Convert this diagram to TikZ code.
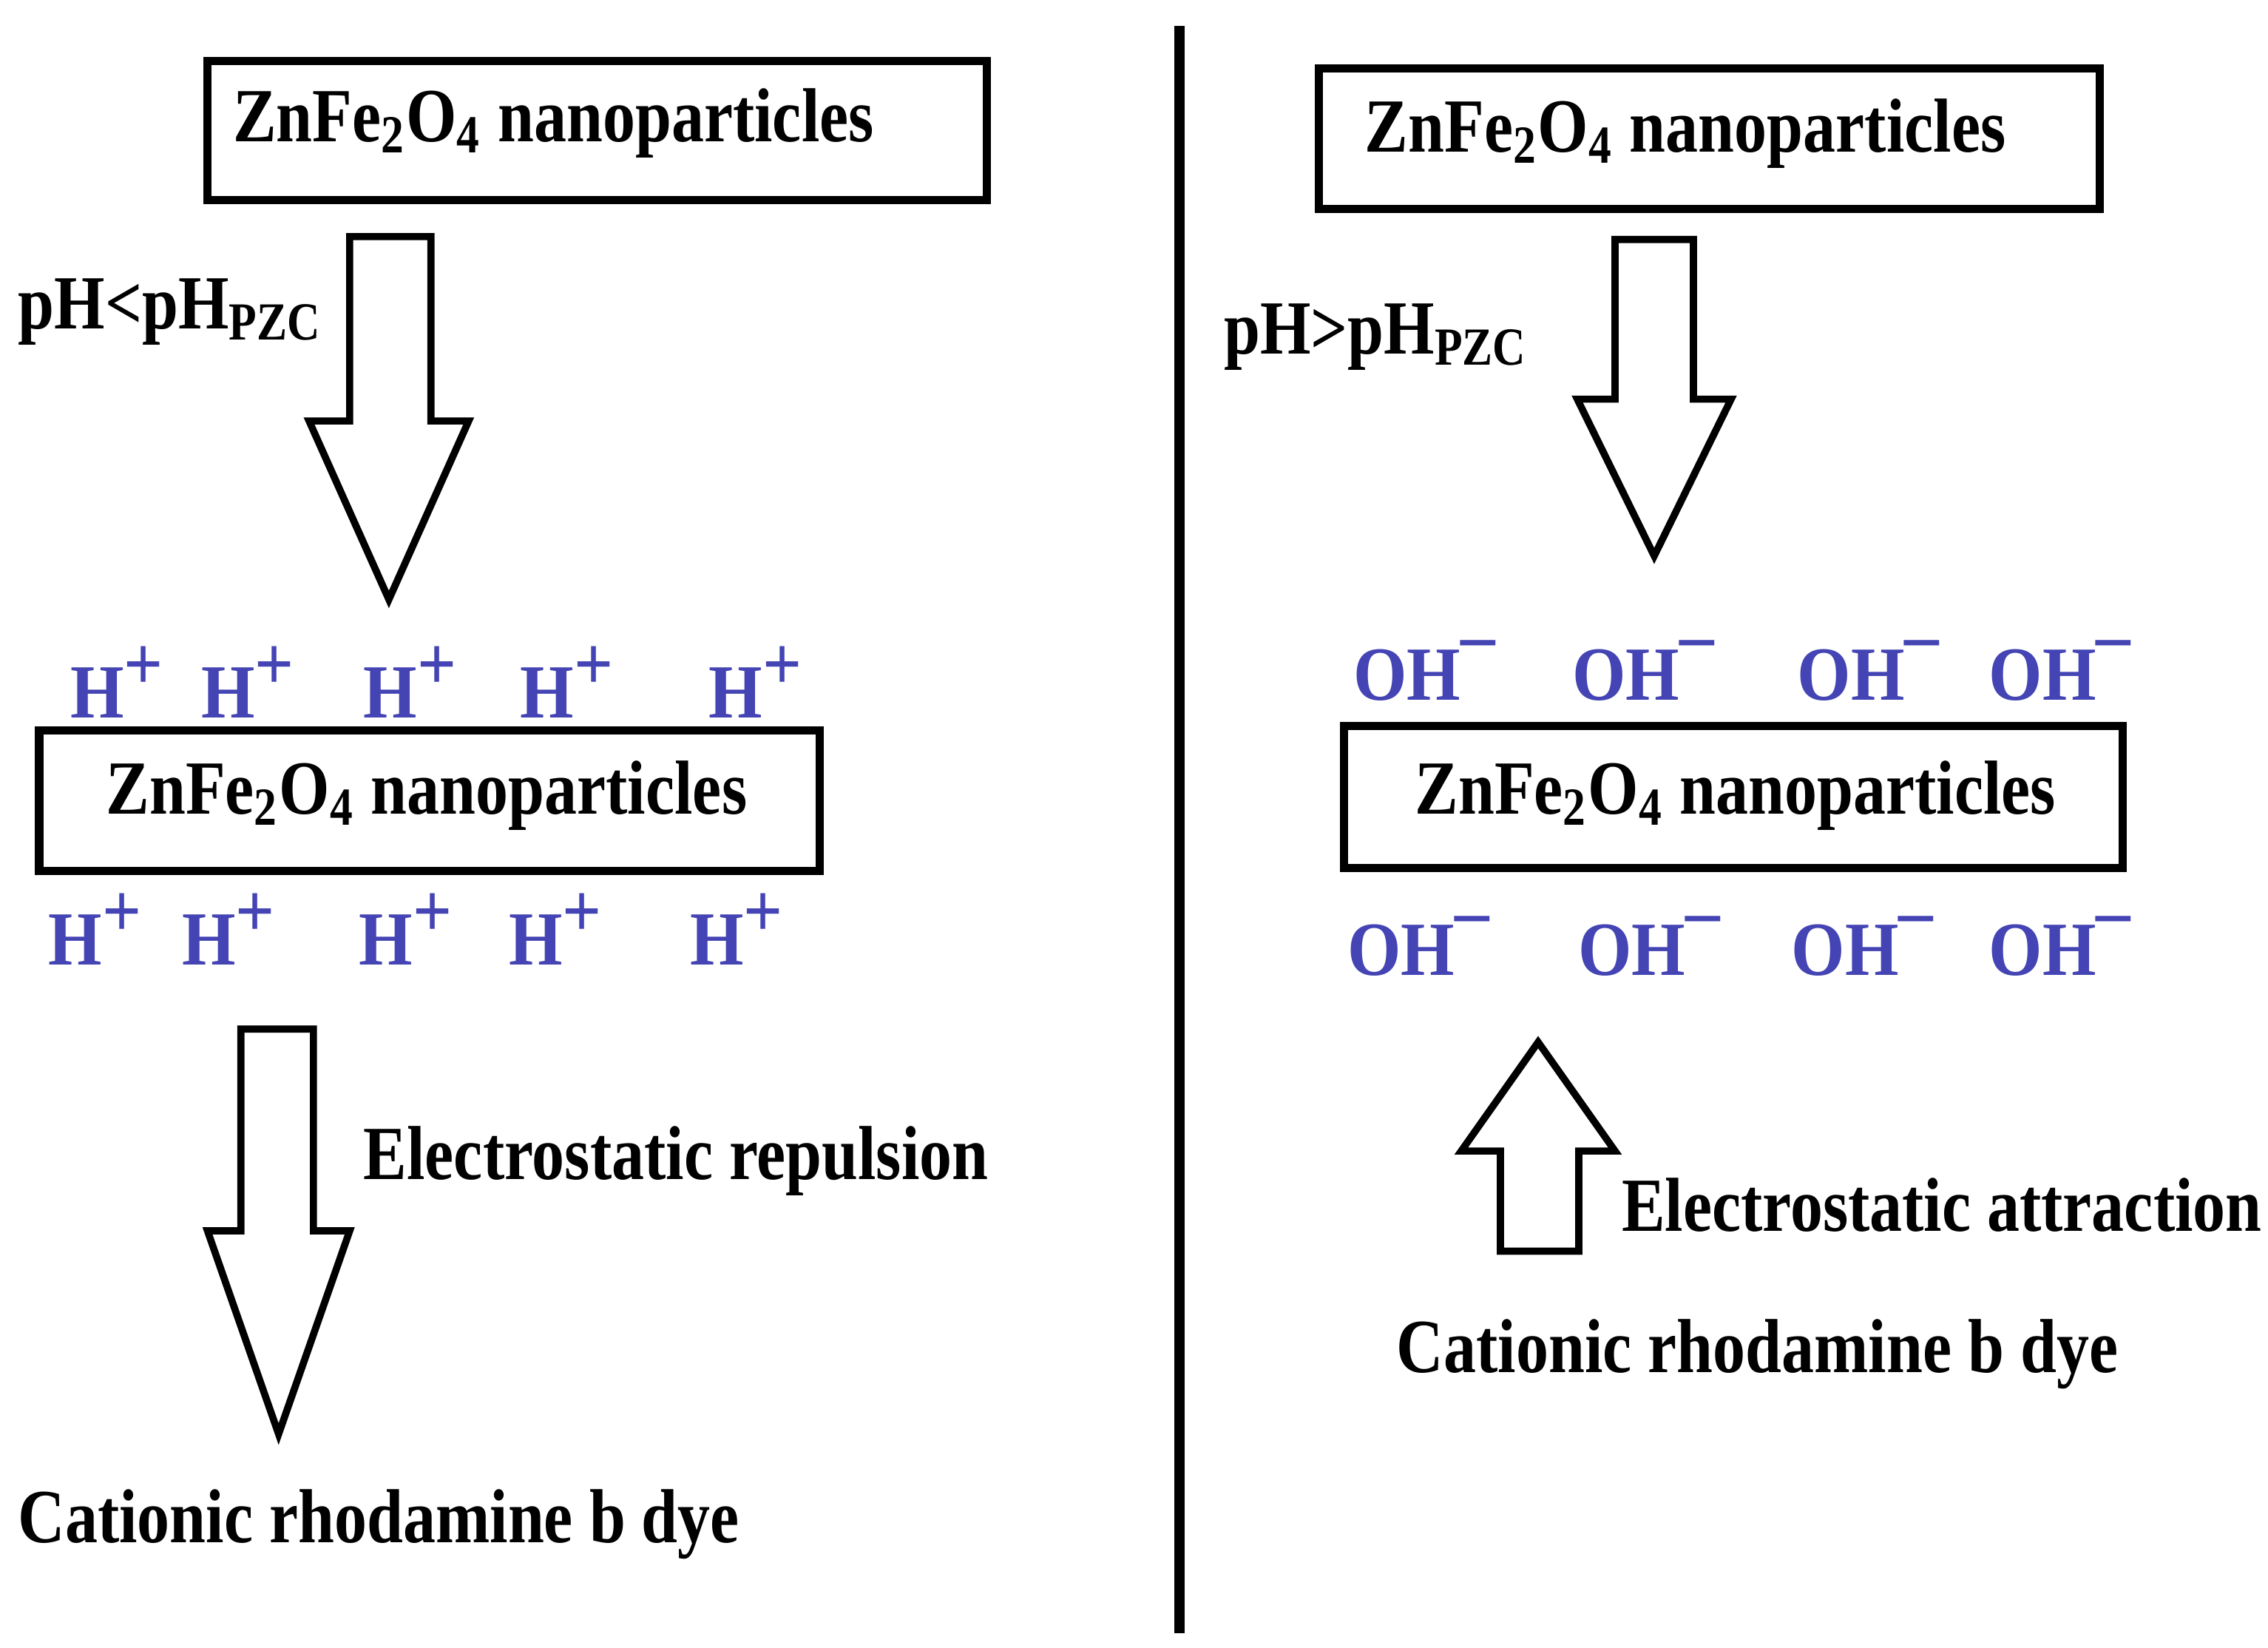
\documentclass[tikz,border=0pt]{standalone}
\usepackage{fontspec}
\setmainfont{Liberation Serif}
\tikzset{
  txt/.style={font=\fontsize{15}{17}\selectfont\bfseries, inner sep=0pt, xscale=0.85, transform shape},
  ion/.style={font=\fontsize{15}{17}\selectfont\bfseries, inner sep=0pt, xscale=0.9, transform shape, text={rgb,255:red,68;green,68;blue,180}},
  box/.style={black, line width=1.6pt},
  bigarrow/.style={black, line width=1.4pt, line join=miter}
}
\newcommand{\Hp}{H\raisebox{0.8ex}{+}}
\newcommand{\OHm}{OH\raisebox{1.1ex}{--}}
\newcommand{\zfo}{ZnFe\textsubscript{2}O\textsubscript{4} nanoparticles}
\begin{document}
\begin{tikzpicture}[x=0.01cm, y=-0.01cm]
\useasboundingbox (0,0) rectangle (1563,1135);

% left side
\draw [box](143,42) rectangle (680,138);
\node [txt, anchor=west] (zfoA) at (160,85) {\zfo};
\draw [bigarrow](241,163) -- (297,163) -- (297,290) -- (323,290) -- (268,413) -- (213,290) -- (241,290) -- cycle;
\node [txt, anchor=west] (phlow) at (12,215) {pH<pH\textsubscript{PZC}};

\foreach \x [count=\i] in {48,138,250,358,488}
  \node [ion, anchor=west] (hup\i) at (\x,470) {\Hp};
\draw [box](27,503) rectangle (565,600);
\node [txt] (zfoB) at (294,548) {\zfo};
\foreach \x [count=\i] in {33,125,247,350,475}
  \node [ion, anchor=west] (hdn\i) at (\x,640) {\Hp};

\draw [bigarrow](166,709) -- (216,709) -- (216,848) -- (241,848) -- (192,988) -- (143,848) -- (166,848) -- cycle;
\node [txt, anchor=west] (repul) at (250,800) {Electrostatic repulsion};
\node [txt, anchor=west] (dyeA) at (12,1050) {Cationic rhodamine b dye};

% divider
\draw [black, line width=2pt](813,18) -- (813,1125);

% right side
\draw [box](909,47) rectangle (1447,144);
\node [txt, anchor=west] (zfoC) at (940,92) {\zfo};
\draw [bigarrow](1113,165) -- (1167,165) -- (1167,275) -- (1193,275) -- (1140,383) -- (1087,275) -- (1113,275) -- cycle;
\node [txt, anchor=west] (phhigh) at (843,232) {pH>pH\textsubscript{PZC}};

\foreach \x [count=\i] in {932,1083,1238,1370}
  \node [ion, anchor=west] (ohup\i) at (\x,462) {\OHm};
\draw [box](926,500) rectangle (1463,598);
\node [txt] (zfoD) at (1196,548) {\zfo};
\foreach \x [count=\i] in {928,1087,1234,1370}
  \node [ion, anchor=west] (ohdn\i) at (\x,652) {\OHm};

\draw [bigarrow](1060,718) -- (1113,793) -- (1088,793) -- (1088,862) -- (1034,862) -- (1034,793) -- (1007,793) -- cycle;
\node [txt, anchor=west] (attr) at (1117,830) {Electrostatic attraction};
\node [txt, anchor=west] (dyeB) at (962,933) {Cationic rhodamine b dye};

\end{tikzpicture}
\end{document}
